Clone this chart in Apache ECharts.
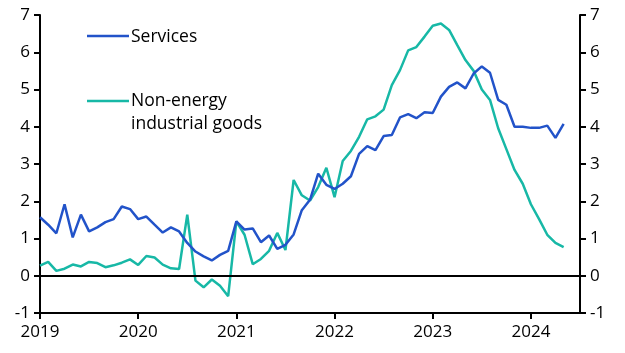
<!DOCTYPE html>
<html>
<head>
<meta charset="utf-8">
<script src="https://cdn.jsdelivr.net/npm/echarts@6/dist/echarts.min.js"></script>
<style>
  html, body { margin: 0; padding: 0; background: #fff; }
  #main { width: 625px; height: 353px; }
</style>
</head>
<body>
<div id="main"></div>
<script>
// months Jan 2019 .. Jul 2024
var years = [2019, 2020, 2021, 2022, 2023, 2024];
var months = [];
years.forEach(function (y) {
  for (var m = 1; m <= 12; m++) {
    if (y === 2024 && m > 7) break;
    months.push(y + '-' + (m < 10 ? '0' + m : m));
  }
});

// y/y %, Jan 2019 .. May 2024
var services = [
  1.57, 1.37, 1.14, 1.92, 1.03, 1.64, 1.19, 1.30, 1.44, 1.52, 1.86, 1.79,
  1.52, 1.59, 1.37, 1.16, 1.30, 1.19, 0.88, 0.65, 0.52, 0.41, 0.56, 0.67,
  1.46, 1.24, 1.27, 0.90, 1.08, 0.72, 0.83, 1.11, 1.76, 2.04, 2.74, 2.44,
  2.33, 2.47, 2.67, 3.27, 3.48, 3.37, 3.75, 3.78, 4.25, 4.34, 4.23, 4.39,
  4.37, 4.81, 5.07, 5.19, 5.03, 5.43, 5.62, 5.45, 4.72, 4.59, 4.00, 4.00,
  3.97, 3.97, 4.03, 3.70, 4.08
];
var neig = [
  0.27, 0.37, 0.13, 0.19, 0.30, 0.25, 0.37, 0.34, 0.23, 0.28, 0.35, 0.44,
  0.29, 0.53, 0.49, 0.30, 0.20, 0.18, 1.64, -0.13, -0.31, -0.10, -0.27, -0.55,
  1.46, 1.10, 0.31, 0.45, 0.67, 1.15, 0.69, 2.57, 2.16, 2.02, 2.38, 2.90,
  2.11, 3.08, 3.35, 3.73, 4.20, 4.28, 4.46, 5.12, 5.52, 6.05, 6.14, 6.42,
  6.71, 6.77, 6.60, 6.19, 5.79, 5.50, 5.00, 4.72, 3.96, 3.40, 2.84, 2.47,
  1.92, 1.52, 1.10, 0.88, 0.77
];

var blue = '#2253c9';
var teal = '#17b8a6';
var font = 'Open Sans';

var myChart = echarts.init(document.getElementById('main'), null, { renderer: 'canvas' });

var yAxisBase = {
  type: 'value',
  min: -1,
  max: 7,
  interval: 1,
  axisLine: { show: true, lineStyle: { color: '#000', width: 2 } },
  axisTick: { show: true, inside: false, length: 6, lineStyle: { color: '#000', width: 2 } },
  axisLabel: { color: '#000', fontSize: 17, fontFamily: font, margin: 10 },
  splitLine: { show: false }
};

var option = {
  animation: false,
  grid: { left: 40, right: 45, top: 15, bottom: 40, containLabel: false },
  xAxis: {
    type: 'category',
    data: months,
    boundaryGap: false,
    axisLine: { onZero: false, lineStyle: { color: '#000', width: 2 } },
    axisTick: {
      length: 6,
      lineStyle: { color: '#000', width: 2 },
      interval: function (idx) { return idx % 12 === 0; }
    },
    axisLabel: {
      color: '#000', fontSize: 17, fontFamily: font, margin: 11,
      interval: function (idx) { return idx % 12 === 0; },
      formatter: function (v) { return v.slice(0, 4); }
    },
    splitLine: { show: false }
  },
  yAxis: [
    Object.assign({}, yAxisBase, { position: 'left' }),
    Object.assign({}, yAxisBase, { position: 'right' })
  ],
  series: [
    {
      name: 'Non-energy industrial goods',
      type: 'line',
      data: neig,
      showSymbol: false,
      symbol: 'none',
      lineStyle: { color: teal, width: 2.5 },
      itemStyle: { color: teal },
      markLine: {
        silent: true,
        symbol: 'none',
        label: { show: false },
        lineStyle: { color: '#000', width: 2, type: 'solid' },
        data: [{ yAxis: 0 }]
      },
      z: 2
    },
    {
      name: 'Services',
      type: 'line',
      data: services,
      showSymbol: false,
      symbol: 'none',
      lineStyle: { color: blue, width: 2.5 },
      itemStyle: { color: blue },
      z: 3
    }
  ],
  graphic: [
    { type: 'line', shape: { x1: 87, y1: 36, x2: 129, y2: 36 }, style: { stroke: blue, lineWidth: 2.5 } },
    { type: 'text', style: { x: 131, y: 37, text: 'Services', fill: '#000', fontSize: 17.5, fontFamily: font, verticalAlign: 'middle' } },
    { type: 'line', shape: { x1: 87, y1: 101, x2: 129, y2: 101 }, style: { stroke: teal, lineWidth: 2.5 } },
    { type: 'text', style: { x: 131, y: 90, text: 'Non-energy\nindustrial goods', fill: '#000', fontSize: 17.5, fontFamily: font, lineHeight: 23, verticalAlign: 'top' } }
  ]
};

myChart.setOption(option);
</script>
</body>
</html>
